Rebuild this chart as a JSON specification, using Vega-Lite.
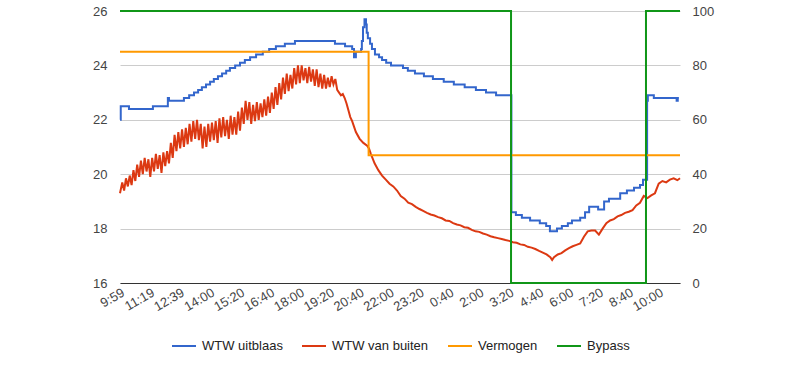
{
  "$schema": "https://vega.github.io/schema/vega-lite/v6.json",
  "width": 560,
  "height": 272,
  "autosize": {"type": "none"},
  "padding": {"left": 120, "top": 11, "right": 120, "bottom": 86},
  "config": {
    "font": "Liberation Sans",
    "view": {"stroke": null},
    "axis": {"labelFont": "Liberation Sans", "labelFontSize": 13, "labelColor": "#444444", "title": null},
    "legend": {"labelFont": "Liberation Sans", "labelFontSize": 13, "labelColor": "#222222"}
  },
  "datasets": {
    "uitblaas": [
      {"t": "2024-01-01T09:59", "v": 22.0},
      {"t": "2024-01-01T10:01", "v": 22.5},
      {"t": "2024-01-01T10:23", "v": 22.4},
      {"t": "2024-01-01T11:27", "v": 22.5},
      {"t": "2024-01-01T12:07", "v": 22.8},
      {"t": "2024-01-01T12:10", "v": 22.7},
      {"t": "2024-01-01T12:50", "v": 22.8},
      {"t": "2024-01-01T13:04", "v": 22.9},
      {"t": "2024-01-01T13:17", "v": 23.0},
      {"t": "2024-01-01T13:28", "v": 23.1},
      {"t": "2024-01-01T13:38", "v": 23.2},
      {"t": "2024-01-01T13:49", "v": 23.3},
      {"t": "2024-01-01T14:00", "v": 23.4},
      {"t": "2024-01-01T14:10", "v": 23.5},
      {"t": "2024-01-01T14:21", "v": 23.6},
      {"t": "2024-01-01T14:32", "v": 23.7},
      {"t": "2024-01-01T14:43", "v": 23.8},
      {"t": "2024-01-01T14:53", "v": 23.9},
      {"t": "2024-01-01T15:07", "v": 24.0},
      {"t": "2024-01-01T15:20", "v": 24.1},
      {"t": "2024-01-01T15:33", "v": 24.2},
      {"t": "2024-01-01T15:47", "v": 24.3},
      {"t": "2024-01-01T16:03", "v": 24.4},
      {"t": "2024-01-01T16:21", "v": 24.5},
      {"t": "2024-01-01T16:38", "v": 24.6},
      {"t": "2024-01-01T16:56", "v": 24.7},
      {"t": "2024-01-01T17:20", "v": 24.8},
      {"t": "2024-01-01T17:47", "v": 24.9},
      {"t": "2024-01-01T19:34", "v": 24.8},
      {"t": "2024-01-01T20:01", "v": 24.7},
      {"t": "2024-01-01T20:20", "v": 24.6},
      {"t": "2024-01-01T20:25", "v": 24.3},
      {"t": "2024-01-01T20:30", "v": 24.5},
      {"t": "2024-01-01T20:44", "v": 24.6},
      {"t": "2024-01-01T20:46", "v": 24.9},
      {"t": "2024-01-01T20:49", "v": 25.4},
      {"t": "2024-01-01T20:53", "v": 25.7},
      {"t": "2024-01-01T20:57", "v": 25.5},
      {"t": "2024-01-01T20:59", "v": 25.2},
      {"t": "2024-01-01T21:02", "v": 25.0},
      {"t": "2024-01-01T21:08", "v": 24.8},
      {"t": "2024-01-01T21:13", "v": 24.6},
      {"t": "2024-01-01T21:21", "v": 24.4},
      {"t": "2024-01-01T21:32", "v": 24.3},
      {"t": "2024-01-01T21:40", "v": 24.2},
      {"t": "2024-01-01T21:51", "v": 24.1},
      {"t": "2024-01-01T22:04", "v": 24.0},
      {"t": "2024-01-01T22:36", "v": 23.9},
      {"t": "2024-01-01T22:49", "v": 23.8},
      {"t": "2024-01-01T23:08", "v": 23.7},
      {"t": "2024-01-01T23:32", "v": 23.6},
      {"t": "2024-01-01T23:56", "v": 23.5},
      {"t": "2024-01-02T00:25", "v": 23.4},
      {"t": "2024-01-02T00:52", "v": 23.3},
      {"t": "2024-01-02T01:21", "v": 23.2},
      {"t": "2024-01-02T01:51", "v": 23.1},
      {"t": "2024-01-02T02:18", "v": 23.0},
      {"t": "2024-01-02T02:45", "v": 22.9},
      {"t": "2024-01-02T03:26", "v": 18.6},
      {"t": "2024-01-02T03:38", "v": 18.5},
      {"t": "2024-01-02T03:54", "v": 18.4},
      {"t": "2024-01-02T04:16", "v": 18.3},
      {"t": "2024-01-02T04:42", "v": 18.2},
      {"t": "2024-01-02T04:59", "v": 18.1},
      {"t": "2024-01-02T05:09", "v": 17.9},
      {"t": "2024-01-02T05:28", "v": 18.0},
      {"t": "2024-01-02T05:41", "v": 18.1},
      {"t": "2024-01-02T05:57", "v": 18.2},
      {"t": "2024-01-02T06:08", "v": 18.3},
      {"t": "2024-01-02T06:30", "v": 18.4},
      {"t": "2024-01-02T06:43", "v": 18.6},
      {"t": "2024-01-02T06:54", "v": 18.8},
      {"t": "2024-01-02T07:18", "v": 18.7},
      {"t": "2024-01-02T07:34", "v": 19.0},
      {"t": "2024-01-02T07:47", "v": 19.1},
      {"t": "2024-01-02T08:17", "v": 19.3},
      {"t": "2024-01-02T08:35", "v": 19.4},
      {"t": "2024-01-02T08:54", "v": 19.5},
      {"t": "2024-01-02T09:10", "v": 19.6},
      {"t": "2024-01-02T09:18", "v": 19.8},
      {"t": "2024-01-02T09:29", "v": 22.7},
      {"t": "2024-01-02T09:31", "v": 22.9},
      {"t": "2024-01-02T09:47", "v": 22.8},
      {"t": "2024-01-02T10:48", "v": 22.7},
      {"t": "2024-01-02T10:51", "v": 22.8},
      {"t": "2024-01-02T10:54", "v": 22.8}
    ],
    "buiten": [
      {"t": "2024-01-01T09:59", "v": 19.3},
      {"t": "2024-01-01T10:05", "v": 19.7},
      {"t": "2024-01-01T10:10", "v": 19.4},
      {"t": "2024-01-01T10:15", "v": 19.85},
      {"t": "2024-01-01T10:20", "v": 19.55},
      {"t": "2024-01-01T10:25", "v": 19.95},
      {"t": "2024-01-01T10:30", "v": 19.6},
      {"t": "2024-01-01T10:35", "v": 20.15},
      {"t": "2024-01-01T10:40", "v": 19.75},
      {"t": "2024-01-01T10:45", "v": 20.35},
      {"t": "2024-01-01T10:50", "v": 19.9},
      {"t": "2024-01-01T10:55", "v": 20.5},
      {"t": "2024-01-01T11:00", "v": 20.0},
      {"t": "2024-01-01T11:05", "v": 20.6},
      {"t": "2024-01-01T11:10", "v": 20.1},
      {"t": "2024-01-01T11:15", "v": 20.55},
      {"t": "2024-01-01T11:20", "v": 19.9},
      {"t": "2024-01-01T11:25", "v": 20.6},
      {"t": "2024-01-01T11:30", "v": 20.1},
      {"t": "2024-01-01T11:35", "v": 20.75},
      {"t": "2024-01-01T11:40", "v": 20.2},
      {"t": "2024-01-01T11:45", "v": 20.7},
      {"t": "2024-01-01T11:50", "v": 20.05},
      {"t": "2024-01-01T11:55", "v": 20.8},
      {"t": "2024-01-01T12:00", "v": 20.3},
      {"t": "2024-01-01T12:05", "v": 20.85},
      {"t": "2024-01-01T12:10", "v": 20.4},
      {"t": "2024-01-01T12:15", "v": 21.15},
      {"t": "2024-01-01T12:20", "v": 20.6},
      {"t": "2024-01-01T12:25", "v": 21.45},
      {"t": "2024-01-01T12:30", "v": 20.85},
      {"t": "2024-01-01T12:35", "v": 21.55},
      {"t": "2024-01-01T12:40", "v": 20.95},
      {"t": "2024-01-01T12:45", "v": 21.65},
      {"t": "2024-01-01T12:50", "v": 21.0},
      {"t": "2024-01-01T12:55", "v": 21.7},
      {"t": "2024-01-01T13:00", "v": 21.1},
      {"t": "2024-01-01T13:05", "v": 21.85},
      {"t": "2024-01-01T13:10", "v": 21.2},
      {"t": "2024-01-01T13:15", "v": 21.95},
      {"t": "2024-01-01T13:20", "v": 21.3},
      {"t": "2024-01-01T13:25", "v": 22.0},
      {"t": "2024-01-01T13:30", "v": 21.25},
      {"t": "2024-01-01T13:35", "v": 21.85},
      {"t": "2024-01-01T13:40", "v": 20.95},
      {"t": "2024-01-01T13:45", "v": 21.75},
      {"t": "2024-01-01T13:50", "v": 21.0},
      {"t": "2024-01-01T13:55", "v": 21.85},
      {"t": "2024-01-01T14:00", "v": 21.2},
      {"t": "2024-01-01T14:05", "v": 21.9},
      {"t": "2024-01-01T14:10", "v": 21.25},
      {"t": "2024-01-01T14:15", "v": 21.95},
      {"t": "2024-01-01T14:20", "v": 21.15},
      {"t": "2024-01-01T14:25", "v": 22.05},
      {"t": "2024-01-01T14:30", "v": 21.35},
      {"t": "2024-01-01T14:35", "v": 22.1},
      {"t": "2024-01-01T14:40", "v": 21.4},
      {"t": "2024-01-01T14:45", "v": 22.0},
      {"t": "2024-01-01T14:50", "v": 21.3},
      {"t": "2024-01-01T14:55", "v": 22.15},
      {"t": "2024-01-01T15:00", "v": 21.45},
      {"t": "2024-01-01T15:05", "v": 22.1},
      {"t": "2024-01-01T15:10", "v": 21.45},
      {"t": "2024-01-01T15:15", "v": 22.3},
      {"t": "2024-01-01T15:20", "v": 21.6},
      {"t": "2024-01-01T15:25", "v": 22.45},
      {"t": "2024-01-01T15:30", "v": 21.85},
      {"t": "2024-01-01T15:35", "v": 22.7},
      {"t": "2024-01-01T15:40", "v": 22.0},
      {"t": "2024-01-01T15:45", "v": 22.65},
      {"t": "2024-01-01T15:50", "v": 21.85},
      {"t": "2024-01-01T15:55", "v": 22.55},
      {"t": "2024-01-01T16:00", "v": 21.95},
      {"t": "2024-01-01T16:05", "v": 22.65},
      {"t": "2024-01-01T16:10", "v": 22.0},
      {"t": "2024-01-01T16:15", "v": 22.6},
      {"t": "2024-01-01T16:20", "v": 22.1},
      {"t": "2024-01-01T16:25", "v": 22.75},
      {"t": "2024-01-01T16:30", "v": 22.15},
      {"t": "2024-01-01T16:35", "v": 22.85},
      {"t": "2024-01-01T16:40", "v": 22.25},
      {"t": "2024-01-01T16:45", "v": 23.0},
      {"t": "2024-01-01T16:50", "v": 22.4},
      {"t": "2024-01-01T16:55", "v": 23.2},
      {"t": "2024-01-01T17:00", "v": 22.55},
      {"t": "2024-01-01T17:05", "v": 23.35},
      {"t": "2024-01-01T17:10", "v": 22.75},
      {"t": "2024-01-01T17:15", "v": 23.55},
      {"t": "2024-01-01T17:20", "v": 22.95},
      {"t": "2024-01-01T17:25", "v": 23.7},
      {"t": "2024-01-01T17:30", "v": 23.05},
      {"t": "2024-01-01T17:35", "v": 23.65},
      {"t": "2024-01-01T17:40", "v": 23.15},
      {"t": "2024-01-01T17:45", "v": 23.9},
      {"t": "2024-01-01T17:50", "v": 23.3},
      {"t": "2024-01-01T17:55", "v": 24.0},
      {"t": "2024-01-01T18:00", "v": 23.35},
      {"t": "2024-01-01T18:05", "v": 24.0},
      {"t": "2024-01-01T18:10", "v": 23.45},
      {"t": "2024-01-01T18:15", "v": 23.9},
      {"t": "2024-01-01T18:20", "v": 23.35},
      {"t": "2024-01-01T18:25", "v": 23.95},
      {"t": "2024-01-01T18:30", "v": 23.4},
      {"t": "2024-01-01T18:35", "v": 23.85},
      {"t": "2024-01-01T18:40", "v": 23.25},
      {"t": "2024-01-01T18:45", "v": 23.85},
      {"t": "2024-01-01T18:50", "v": 23.2},
      {"t": "2024-01-01T18:55", "v": 23.7},
      {"t": "2024-01-01T19:00", "v": 23.15},
      {"t": "2024-01-01T19:05", "v": 23.65},
      {"t": "2024-01-01T19:10", "v": 23.15},
      {"t": "2024-01-01T19:15", "v": 23.55},
      {"t": "2024-01-01T19:20", "v": 23.2},
      {"t": "2024-01-01T19:25", "v": 23.6},
      {"t": "2024-01-01T19:30", "v": 23.3},
      {"t": "2024-01-01T19:35", "v": 23.5},
      {"t": "2024-01-01T19:40", "v": 23.1},
      {"t": "2024-01-01T19:45", "v": 23.0},
      {"t": "2024-01-01T19:50", "v": 22.9},
      {"t": "2024-01-01T19:55", "v": 22.95},
      {"t": "2024-01-01T20:00", "v": 22.8},
      {"t": "2024-01-01T20:05", "v": 22.6},
      {"t": "2024-01-01T20:10", "v": 22.35},
      {"t": "2024-01-01T20:15", "v": 22.1},
      {"t": "2024-01-01T20:20", "v": 21.95},
      {"t": "2024-01-01T20:25", "v": 21.75},
      {"t": "2024-01-01T20:30", "v": 21.55},
      {"t": "2024-01-01T20:40", "v": 21.3},
      {"t": "2024-01-01T20:50", "v": 21.15},
      {"t": "2024-01-01T21:00", "v": 21.05},
      {"t": "2024-01-01T21:05", "v": 20.95},
      {"t": "2024-01-01T21:10", "v": 20.75},
      {"t": "2024-01-01T21:20", "v": 20.4},
      {"t": "2024-01-01T21:30", "v": 20.15},
      {"t": "2024-01-01T21:40", "v": 19.95},
      {"t": "2024-01-01T21:50", "v": 19.8},
      {"t": "2024-01-01T22:00", "v": 19.65},
      {"t": "2024-01-01T22:10", "v": 19.55},
      {"t": "2024-01-01T22:20", "v": 19.4},
      {"t": "2024-01-01T22:30", "v": 19.2},
      {"t": "2024-01-01T22:40", "v": 19.1},
      {"t": "2024-01-01T22:50", "v": 18.95},
      {"t": "2024-01-01T23:00", "v": 18.9},
      {"t": "2024-01-01T23:10", "v": 18.8},
      {"t": "2024-01-01T23:20", "v": 18.72},
      {"t": "2024-01-01T23:30", "v": 18.65},
      {"t": "2024-01-01T23:40", "v": 18.58},
      {"t": "2024-01-01T23:50", "v": 18.52},
      {"t": "2024-01-02T00:00", "v": 18.48},
      {"t": "2024-01-02T00:10", "v": 18.42},
      {"t": "2024-01-02T00:20", "v": 18.38},
      {"t": "2024-01-02T00:30", "v": 18.3},
      {"t": "2024-01-02T00:40", "v": 18.28},
      {"t": "2024-01-02T00:50", "v": 18.2},
      {"t": "2024-01-02T01:00", "v": 18.15},
      {"t": "2024-01-02T01:10", "v": 18.12},
      {"t": "2024-01-02T01:20", "v": 18.05},
      {"t": "2024-01-02T01:30", "v": 18.03},
      {"t": "2024-01-02T01:40", "v": 17.95},
      {"t": "2024-01-02T01:50", "v": 17.9},
      {"t": "2024-01-02T02:00", "v": 17.88},
      {"t": "2024-01-02T02:10", "v": 17.82},
      {"t": "2024-01-02T02:20", "v": 17.78},
      {"t": "2024-01-02T02:30", "v": 17.72},
      {"t": "2024-01-02T02:40", "v": 17.68},
      {"t": "2024-01-02T02:50", "v": 17.65},
      {"t": "2024-01-02T03:00", "v": 17.62},
      {"t": "2024-01-02T03:10", "v": 17.58},
      {"t": "2024-01-02T03:20", "v": 17.55},
      {"t": "2024-01-02T03:30", "v": 17.5},
      {"t": "2024-01-02T03:40", "v": 17.48},
      {"t": "2024-01-02T03:50", "v": 17.42},
      {"t": "2024-01-02T04:00", "v": 17.4},
      {"t": "2024-01-02T04:10", "v": 17.33},
      {"t": "2024-01-02T04:20", "v": 17.3},
      {"t": "2024-01-02T04:30", "v": 17.25},
      {"t": "2024-01-02T04:40", "v": 17.18},
      {"t": "2024-01-02T04:50", "v": 17.12},
      {"t": "2024-01-02T05:00", "v": 17.05},
      {"t": "2024-01-02T05:10", "v": 16.95},
      {"t": "2024-01-02T05:15", "v": 16.85},
      {"t": "2024-01-02T05:20", "v": 16.95},
      {"t": "2024-01-02T05:30", "v": 17.05},
      {"t": "2024-01-02T05:40", "v": 17.1},
      {"t": "2024-01-02T05:50", "v": 17.2},
      {"t": "2024-01-02T06:00", "v": 17.28},
      {"t": "2024-01-02T06:10", "v": 17.35},
      {"t": "2024-01-02T06:20", "v": 17.4},
      {"t": "2024-01-02T06:30", "v": 17.45},
      {"t": "2024-01-02T06:40", "v": 17.7},
      {"t": "2024-01-02T06:50", "v": 17.9},
      {"t": "2024-01-02T07:00", "v": 17.93},
      {"t": "2024-01-02T07:10", "v": 17.93},
      {"t": "2024-01-02T07:20", "v": 17.78},
      {"t": "2024-01-02T07:30", "v": 18.0},
      {"t": "2024-01-02T07:40", "v": 18.2},
      {"t": "2024-01-02T07:50", "v": 18.3},
      {"t": "2024-01-02T08:00", "v": 18.35},
      {"t": "2024-01-02T08:10", "v": 18.45},
      {"t": "2024-01-02T08:20", "v": 18.5},
      {"t": "2024-01-02T08:30", "v": 18.58},
      {"t": "2024-01-02T08:40", "v": 18.62},
      {"t": "2024-01-02T08:50", "v": 18.68},
      {"t": "2024-01-02T09:00", "v": 18.85},
      {"t": "2024-01-02T09:10", "v": 18.95},
      {"t": "2024-01-02T09:20", "v": 19.2},
      {"t": "2024-01-02T09:30", "v": 19.12},
      {"t": "2024-01-02T09:40", "v": 19.22},
      {"t": "2024-01-02T09:50", "v": 19.3},
      {"t": "2024-01-02T10:00", "v": 19.65},
      {"t": "2024-01-02T10:10", "v": 19.75},
      {"t": "2024-01-02T10:20", "v": 19.7},
      {"t": "2024-01-02T10:30", "v": 19.8},
      {"t": "2024-01-02T10:40", "v": 19.85},
      {"t": "2024-01-02T10:50", "v": 19.78},
      {"t": "2024-01-02T10:57", "v": 19.85}
    ],
    "vermogen": [
      {"t": "2024-01-01T09:59", "v": 85},
      {"t": "2024-01-01T21:04", "v": 47},
      {"t": "2024-01-02T10:57", "v": 47}
    ],
    "bypass": [
      {"t": "2024-01-01T09:59", "v": 100},
      {"t": "2024-01-02T03:25", "v": 0},
      {"t": "2024-01-02T09:26", "v": 100},
      {"t": "2024-01-02T10:57", "v": 100}
    ]
  },
  "encoding": {
    "x": {
      "field": "t",
      "type": "temporal",
      "scale": {
        "domain": [
          {"year": 2024, "month": 1, "date": 1, "hours": 9, "minutes": 59},
          {"year": 2024, "month": 1, "date": 2, "hours": 10, "minutes": 57}
        ]
      },
      "axis": {
        "values": [
          {"year": 2024, "month": 1, "date": 1, "hours": 9, "minutes": 59},
          {"year": 2024, "month": 1, "date": 1, "hours": 11, "minutes": 19},
          {"year": 2024, "month": 1, "date": 1, "hours": 12, "minutes": 39},
          {"year": 2024, "month": 1, "date": 1, "hours": 14, "minutes": 0},
          {"year": 2024, "month": 1, "date": 1, "hours": 15, "minutes": 20},
          {"year": 2024, "month": 1, "date": 1, "hours": 16, "minutes": 40},
          {"year": 2024, "month": 1, "date": 1, "hours": 18, "minutes": 0},
          {"year": 2024, "month": 1, "date": 1, "hours": 19, "minutes": 20},
          {"year": 2024, "month": 1, "date": 1, "hours": 20, "minutes": 40},
          {"year": 2024, "month": 1, "date": 1, "hours": 22, "minutes": 0},
          {"year": 2024, "month": 1, "date": 1, "hours": 23, "minutes": 20},
          {"year": 2024, "month": 1, "date": 2, "hours": 0, "minutes": 40},
          {"year": 2024, "month": 1, "date": 2, "hours": 2, "minutes": 0},
          {"year": 2024, "month": 1, "date": 2, "hours": 3, "minutes": 20},
          {"year": 2024, "month": 1, "date": 2, "hours": 4, "minutes": 40},
          {"year": 2024, "month": 1, "date": 2, "hours": 6, "minutes": 0},
          {"year": 2024, "month": 1, "date": 2, "hours": 7, "minutes": 20},
          {"year": 2024, "month": 1, "date": 2, "hours": 8, "minutes": 40},
          {"year": 2024, "month": 1, "date": 2, "hours": 10, "minutes": 0}
        ],
        "format": "%-H:%M",
        "labelAngle": -30,
        "labelAlign": "right",
        "labelBaseline": "top",
        "labelPadding": 3,
        "labelOverlap": false,
        "labelFlush": false,
        "grid": false,
        "ticks": false,
        "tickSize": 0,
        "domain": true,
        "domainColor": "#333333",
        "domainWidth": 1
      }
    }
  },
  "layer": [
    {
      "layer": [
        {
          "data": {"name": "uitblaas"},
          "mark": {"type": "line", "interpolate": "step-after", "strokeWidth": 2},
          "encoding": {
            "y": {
              "field": "v",
              "type": "quantitative",
              "scale": {"domain": [16, 26], "nice": false, "zero": false},
              "axis": {
                "values": [16, 17, 18, 19, 20, 21, 22, 23, 24, 25, 26],
                "labelExpr": "datum.value % 2 === 0 ? datum.label : ''",
                "gridColor": {"condition": {"test": "datum.value % 2 === 0", "value": "#cccccc"}, "value": "#ebebeb"},
                "grid": true,
                "domain": false,
                "ticks": false,
                "tickSize": 0,
                "labelPadding": 13
              }
            },
            "color": {
              "datum": "WTW uitblaas",
              "type": "nominal",
              "scale": {
                "domain": ["WTW uitblaas", "WTW van buiten", "Vermogen", "Bypass"],
                "range": ["#3366cc", "#dc3912", "#ff9900", "#109618"]
              },
              "legend": {
                "orient": "none",
                "legendX": 51,
                "legendY": 322,
                "direction": "horizontal",
                "title": null,
                "symbolType": "stroke",
                "symbolSize": 576,
                "symbolStrokeWidth": 2,
                "labelOffset": 5,
                "columnPadding": 15
              }
            }
          }
        },
        {
          "data": {"name": "buiten"},
          "mark": {"type": "line", "interpolate": "linear", "strokeWidth": 2},
          "encoding": {
            "y": {"field": "v", "type": "quantitative"},
            "color": {"datum": "WTW van buiten", "type": "nominal"}
          }
        }
      ]
    },
    {
      "layer": [
        {
          "data": {"name": "vermogen"},
          "mark": {"type": "line", "interpolate": "step-after", "strokeWidth": 2},
          "encoding": {
            "y": {
              "field": "v",
              "type": "quantitative",
              "scale": {"domain": [0, 100], "nice": false},
              "axis": {
                "orient": "right",
                "values": [0, 20, 40, 60, 80, 100],
                "grid": false,
                "domain": false,
                "ticks": false,
                "tickSize": 0,
                "labelPadding": 12
              }
            },
            "color": {"datum": "Vermogen", "type": "nominal"}
          }
        },
        {
          "data": {"name": "bypass"},
          "mark": {"type": "line", "interpolate": "step-after", "strokeWidth": 2},
          "encoding": {
            "y": {"field": "v", "type": "quantitative"},
            "color": {"datum": "Bypass", "type": "nominal"}
          }
        }
      ]
    }
  ],
  "resolve": {"scale": {"y": "independent"}, "axis": {"y": "independent"}}
}
